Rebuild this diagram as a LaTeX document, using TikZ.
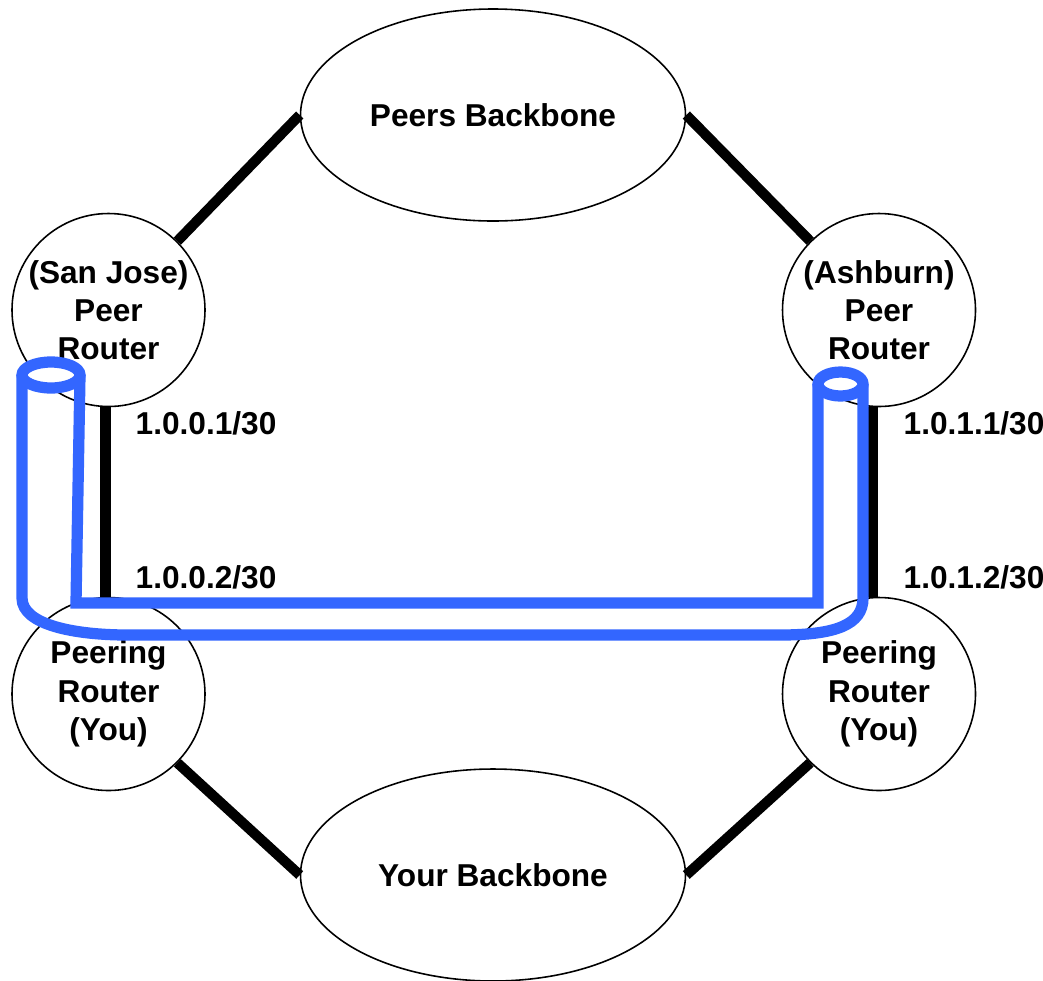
\documentclass[tikz,border=0pt]{standalone}
\usepackage{fontspec}
\setmainfont{Liberation Sans}
\usetikzlibrary{shapes.geometric,positioning}
\definecolor{tubeblue}{RGB}{51,102,255}

\begin{document}
\begin{tikzpicture}
\tikzset{
  lbl/.style={font=\fontsize{9}{10.9}\selectfont\bfseries},
  rtr/.style={circle, draw, line width=0.45pt, minimum size=1.93cm, inner sep=0pt, align=center, lbl},
  bb/.style={ellipse, draw, line width=0.45pt, minimum width=3.85cm, minimum height=2.12cm, inner sep=0pt, lbl},
  lnk/.style={line width=2.9pt},
  ip/.style={anchor=west, inner sep=0pt, lbl},
  tube/.style={draw=tubeblue, line width=3.2pt}
}
\useasboundingbox (0,0) rectangle (10.43,9.8);
% ---------- backbones ----------
\node[bb] (pb) at (4.93,8.65) {Peers Backbone};
\node[bb] (yb) at (4.93,1.05) {Your Backbone};
% ---------- routers ----------
\node[rtr] (sj) at (1.085,6.70) {(San Jose)\\Peer\\Router};
\node[rtr] (ash) at (8.79,6.70) {(Ashburn)\\Peer\\Router};
\node[rtr] (pl) at (1.085,2.86) {Peering\\Router\\(You)};
\node[rtr] (pr) at (8.79,2.86) {Peering\\Router\\(You)};
% ---------- links ----------
\draw[lnk] (sj.north east) -- (pb.west);
\draw[lnk] (ash.north west) -- (pb.east);
\draw[lnk] (pl.south east) -- (yb.west);
\draw[lnk] (pr.south west) -- (yb.east);
\draw[lnk] ([xshift=-0.03cm]sj.south) -- ([xshift=-0.03cm]pl.north);
\draw[lnk] ([xshift=-0.06cm]ash.south) -- ([xshift=-0.06cm]pr.north);
% ---------- addresses ----------
\node[ip] (a1) at (1.35,5.57) {1.0.0.1/30};
\node[ip] (a2) at (1.35,4.03) {1.0.0.2/30};
\node[ip] (b1) at (9.03,5.57) {1.0.1.1/30};
\node[ip] (b2) at (9.03,4.03) {1.0.1.2/30};
% ---------- tunnel ----------
\draw[tube] (0.80,6.05) -- (0.76,3.77) -- (8.18,3.77) -- (8.18,5.96);
\draw[tube] (0.22,6.05) -- (0.22,3.82)
  .. controls (0.22,3.55) and (0.75,3.45) .. (1.28,3.45) -- (7.80,3.45)
  .. controls (8.35,3.45) and (8.63,3.55) .. (8.63,3.82) -- (8.63,5.96);
\draw[tube, fill=white] (0.51,6.05) ellipse (0.29 and 0.13);
\draw[tube, fill=white] (8.405,5.96) ellipse (0.225 and 0.12);
\end{tikzpicture}
\end{document}
